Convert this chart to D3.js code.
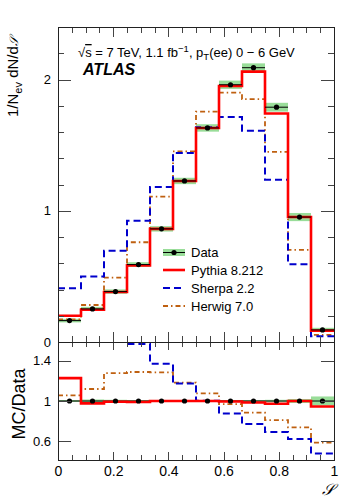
<!DOCTYPE html>
<html>
<head>
<meta charset="utf-8">
<script src="https://cdn.jsdelivr.net/npm/d3@7"></script>
<style>
  body { margin: 0; background: #fff; }
  svg { font-family: "Liberation Sans", Arial, sans-serif; }
  .axis path.domain { display: none; }
  .axis line { stroke: #444; shape-rendering: crispEdges; }
  .axis text { fill: #000; font-family: "Liberation Sans", Arial, sans-serif; }
</style>
</head>
<body>
<div id="chart"></div>
<script>
// bins of the event shape S, 12 equal bins in [0,1]
var nBins = 12;
var binEdges = d3.range(nBins + 1).map(function(i){ return i / nBins; });

// normalised distributions
var dataVals   = [0.163, 0.252, 0.384, 0.590, 0.862, 1.227, 1.631, 1.960, 2.090, 1.789, 0.952, 0.092];
var dataStat   = [0.006, 0.008, 0.008, 0.010, 0.010, 0.012, 0.014, 0.014, 0.014, 0.014, 0.012, 0.002];
var dataSystRel= [0.010, 0.015, 0.012, 0.010, 0.010, 0.010, 0.010, 0.010, 0.010, 0.012, 0.020, 0.045];
var pythiaVals = [0.200, 0.246, 0.381, 0.584, 0.862, 1.227, 1.631, 1.950, 2.060, 1.741, 0.952, 0.087];
var sherpaVals = [0.410, 0.499, 0.695, 0.924, 1.181, 1.440, 1.636, 1.715, 1.610, 1.237, 0.593, 0.044];
var herwigVals = [0.172, 0.282, 0.490, 0.760, 1.107, 1.452, 1.756, 1.900, 1.850, 1.449, 0.702, 0.054];

var xTickLabels   = [0, 0.2, 0.4, 0.6, 0.8, 1];
var yTopLabels    = [0, 1, 2];
var yRatioLabels  = [0.6, 1, 1.4];

var W = 349, H = 500;
var L = 58, R = 334, T = 27, MID = 342, B = 460;

var svg = d3.select('#chart').append('svg')
	.attr('width', W).attr('height', H);

var x = d3.scaleLinear().domain([0, 1]).range([L, R]);
var yTop = d3.scaleLinear().domain([0, 2.4]).range([MID, T]);
var yRat = d3.scaleLinear().domain([0.414, 1.586]).range([B, MID]);

var defs = svg.append('defs');
defs.append('clipPath').attr('id', 'clipTop')
	.append('rect').attr('x', L).attr('y', T).attr('width', R - L).attr('height', MID - T);
defs.append('clipPath').attr('id', 'clipRat')
	.append('rect').attr('x', L).attr('y', MID).attr('width', R - L).attr('height', B - MID);

var series = [
	{name: 'Pythia 8.212', vals: pythiaVals, color: '#ff0000', width: 2.6, dash: null},
	{name: 'Sherpa 2.2',   vals: sherpaVals, color: '#0000cc', width: 2,   dash: '7,4'},
	{name: 'Herwig 7.0',   vals: herwigVals, color: '#bf6010', width: 1.8, dash: '5,3,1.5,3'}
];

// step points for a histogram
function stepPoints(vals){
	var pts = vals.map(function(v, i){ return [binEdges[i], v]; });
	pts.push([binEdges[nBins], vals[nBins - 1]]);
	return pts;
}

function ratioOf(vals){
	return vals.map(function(v, i){ return v / dataVals[i]; });
}

var topG = svg.append('g').attr('clip-path', 'url(#clipTop)');
var ratG = svg.append('g').attr('clip-path', 'url(#clipRat)');

///***** top panel *****///
topG.selectAll('.syst').data(dataVals).enter().append('rect')
	.attr('class', 'syst')
	.attr('x', function(d, i){ return x(binEdges[i]); })
	.attr('width', function(d, i){ return x(binEdges[i + 1]) - x(binEdges[i]); })
	.attr('y', function(d, i){ return yTop(d * (1 + dataSystRel[i]) + 0.012); })
	.attr('height', function(d, i){ return yTop(d * (1 - dataSystRel[i]) - 0.012) - yTop(d * (1 + dataSystRel[i]) + 0.012); })
	.attr('fill', '#99dd99');

var lineTop = d3.line().curve(d3.curveStepAfter)
	.x(function(d){ return x(d[0]); }).y(function(d){ return yTop(d[1]); });
var lineRat = d3.line().curve(d3.curveStepAfter)
	.x(function(d){ return x(d[0]); }).y(function(d){ return yRat(d[1]); });

series.slice().reverse().forEach(function(s){
	topG.append('path')
		.attr('d', lineTop(stepPoints(s.vals)))
		.attr('fill', 'none').attr('stroke', s.color)
		.attr('stroke-width', s.width)
		.attr('stroke-dasharray', s.dash);
});

topG.selectAll('.dataH').data(dataVals).enter().append('line')
	.attr('x1', function(d, i){ return x(binEdges[i]); })
	.attr('x2', function(d, i){ return x(binEdges[i + 1]); })
	.attr('y1', function(d){ return yTop(d); }).attr('y2', function(d){ return yTop(d); })
	.attr('stroke', '#000').attr('stroke-width', 1);
topG.selectAll('.dataV').data(dataVals).enter().append('line')
	.attr('x1', function(d, i){ return x((binEdges[i] + binEdges[i + 1]) / 2); })
	.attr('x2', function(d, i){ return x((binEdges[i] + binEdges[i + 1]) / 2); })
	.attr('y1', function(d, i){ return yTop(d + dataStat[i]); })
	.attr('y2', function(d, i){ return yTop(d - dataStat[i]); })
	.attr('stroke', '#000').attr('stroke-width', 1);
topG.selectAll('.dataP').data(dataVals).enter().append('circle')
	.attr('cx', function(d, i){ return x((binEdges[i] + binEdges[i + 1]) / 2); })
	.attr('cy', function(d){ return yTop(d); })
	.attr('r', 2.6).attr('fill', '#000');

///***** ratio panel *****///
ratG.selectAll('.syst').data(dataVals).enter().append('rect')
	.attr('x', function(d, i){ return x(binEdges[i]); })
	.attr('width', function(d, i){ return x(binEdges[i + 1]) - x(binEdges[i]); })
	.attr('y', function(d, i){ return yRat(1 + dataSystRel[i]); })
	.attr('height', function(d, i){ return yRat(1 - dataSystRel[i]) - yRat(1 + dataSystRel[i]); })
	.attr('fill', '#99dd99');

ratG.append('line')
	.attr('x1', x(0)).attr('x2', x(1)).attr('y1', yRat(1)).attr('y2', yRat(1))
	.attr('stroke', '#000').attr('stroke-width', 1);

series.slice().reverse().forEach(function(s){
	ratG.append('path')
		.attr('d', lineRat(stepPoints(ratioOf(s.vals))))
		.attr('fill', 'none').attr('stroke', s.color)
		.attr('stroke-width', s.width)
		.attr('stroke-dasharray', s.dash);
});

ratG.selectAll('.dataP').data(dataVals).enter().append('circle')
	.attr('cx', function(d, i){ return x((binEdges[i] + binEdges[i + 1]) / 2); })
	.attr('cy', yRat(1))
	.attr('r', 2.6).attr('fill', '#000');

///***** axes and frames *****///
var xMinor = d3.range(0, 1.001, 0.05).filter(function(v){ return Math.abs(v * 5 - Math.round(v * 5)) > 1e-6; });
var yTopMinor = d3.range(0, 2.41, 0.2).filter(function(v){ return Math.abs(v - Math.round(v)) > 1e-6; });

function addAxis(axis, tx, ty, fontSize){
	var g = svg.append('g').attr('class', 'axis')
		.attr('transform', 'translate(' + tx + ',' + ty + ')')
		.call(axis);
	g.selectAll('text').style('font-size', fontSize ? fontSize + 'px' : null);
	return g;
}
function fmt(v){ return String(v); }
var none = function(){ return ''; };

// top panel
addAxis(d3.axisLeft(yTop).tickValues(yTopLabels).tickSize(-13).tickPadding(7).tickFormat(fmt), L, 0, 13);
addAxis(d3.axisLeft(yTop).tickValues(yTopMinor).tickSize(-6).tickFormat(none), L, 0);
addAxis(d3.axisRight(yTop).tickValues(yTopLabels).tickSize(-13).tickFormat(none), R, 0);
addAxis(d3.axisRight(yTop).tickValues(yTopMinor).tickSize(-6).tickFormat(none), R, 0);
addAxis(d3.axisTop(x).tickValues(xTickLabels).tickSize(-10).tickFormat(none), 0, T);
addAxis(d3.axisTop(x).tickValues(xMinor).tickSize(-6).tickFormat(none), 0, T);
addAxis(d3.axisBottom(x).tickValues(xTickLabels).tickSize(-10).tickFormat(none), 0, MID);
addAxis(d3.axisBottom(x).tickValues(xMinor).tickSize(-6).tickFormat(none), 0, MID);

// ratio panel
addAxis(d3.axisLeft(yRat).tickValues(yRatioLabels).tickSize(-13).tickPadding(7).tickFormat(fmt), L, 0, 13);
addAxis(d3.axisRight(yRat).tickValues(yRatioLabels).tickSize(-13).tickFormat(none), R, 0);
addAxis(d3.axisTop(x).tickValues(xTickLabels).tickSize(-8).tickFormat(none), 0, MID);
addAxis(d3.axisTop(x).tickValues(xMinor).tickSize(-5).tickFormat(none), 0, MID);
addAxis(d3.axisBottom(x).tickValues(xTickLabels).tickSize(-8).tickPadding(6).tickFormat(fmt), 0, B, 14);
addAxis(d3.axisBottom(x).tickValues(xMinor).tickSize(-5).tickFormat(none), 0, B);

svg.append('rect').attr('x', L + 0.5).attr('y', T + 0.5).attr('width', R - L).attr('height', MID - T)
	.attr('fill', 'none').attr('stroke', '#222').attr('shape-rendering', 'crispEdges');
svg.append('rect').attr('x', L + 0.5).attr('y', MID + 0.5).attr('width', R - L).attr('height', B - MID)
	.attr('fill', 'none').attr('stroke', '#222').attr('shape-rendering', 'crispEdges');

///***** titles *****///
var yt = svg.append('text')
	.attr('transform', 'translate(18,117) rotate(-90)')
	.attr('text-anchor', 'start').style('font-size', '15px');
yt.append('tspan').text('1/N');
yt.append('tspan').attr('dy', 4).style('font-size', '11px').text('ev');
yt.append('tspan').attr('dy', -4).text(' dN/d');
yt.append('tspan').style('font-family', '"DejaVu Serif", serif').style('font-style', 'italic')
	.style('font-size', '12px').text('𝒮');

svg.append('text')
	.attr('transform', 'translate(25,' + yRat(0.97) + ') rotate(-90)')
	.attr('text-anchor', 'middle').style('font-size', '18px').text('MC/Data');

svg.append('text')
	.attr('x', R).attr('y', 495).attr('text-anchor', 'end')
	.style('font-size', '16px').style('font-family', '"DejaVu Serif", serif').style('font-style', 'italic')
	.text('𝒮');

var ann = svg.append('text').attr('x', 78).attr('y', 57).style('font-size', '13px');
ann.append('tspan').text('√');
ann.append('tspan').style('text-decoration', 'overline').text('s');
ann.append('tspan').text(' = 7 TeV, 1.1 fb');
ann.append('tspan').attr('dy', -5).style('font-size', '9.5px').text('−1');
ann.append('tspan').attr('dy', 5).text(', p');
ann.append('tspan').attr('dy', 3).style('font-size', '9.5px').text('T');
ann.append('tspan').attr('dy', -3).text('(ee) 0 − 6 GeV');

svg.append('text').attr('x', 83).attr('y', 75)
	.style('font-size', '16px').style('font-weight', 'bold').style('font-style', 'italic')
	.text('ATLAS');

///***** legend *****///
var legX0 = 163, legX1 = 185, legTx = 191;
var legRows = [252.5, 270, 288, 306];
var leg = svg.append('g');
leg.append('rect').attr('x', legX0).attr('y', legRows[0] - 3.5).attr('width', legX1 - legX0).attr('height', 7)
	.attr('fill', '#99dd99');
leg.append('line').attr('x1', legX0).attr('x2', legX1).attr('y1', legRows[0]).attr('y2', legRows[0])
	.attr('stroke', '#000');
leg.append('circle').attr('cx', (legX0 + legX1) / 2).attr('cy', legRows[0]).attr('r', 2.6);
leg.append('text').attr('x', legTx).attr('y', legRows[0] + 4.5).style('font-size', '13px').text('Data');
series.forEach(function(s, i){
	var yy = legRows[i + 1];
	leg.append('line').attr('x1', legX0).attr('x2', legX1).attr('y1', yy).attr('y2', yy)
		.attr('stroke', s.color).attr('stroke-width', s.width).attr('stroke-dasharray', s.dash);
	leg.append('text').attr('x', legTx).attr('y', yy + 4.5).style('font-size', '13px').text(s.name);
});
</script>
</body>
</html>
